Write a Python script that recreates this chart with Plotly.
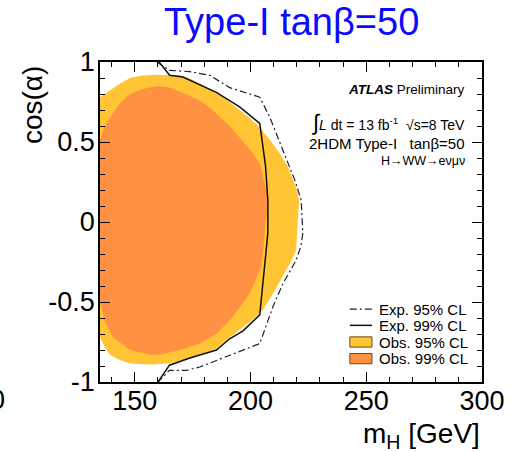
import plotly.graph_objects as go

# Observed 99% CL exclusion region (m_H [GeV], cos(alpha))
obs99_m = [135, 137, 140.6, 144, 148, 153, 159.6, 165, 172, 178, 183, 186.7, 191, 195.3, 200, 204,
           206.9, 207.6, 206.5, 206.1, 205.5, 204.6, 202, 199.6, 196, 192.4, 188, 185.3, 178.1, 169.5,
           160.9, 156.6, 148, 140.6, 137, 135]
obs99_c = [0.51, 0.60, 0.68, 0.75, 0.80, 0.83, 0.85, 0.84, 0.80, 0.76, 0.71, 0.656, 0.60, 0.53, 0.45, 0.366,
           0.2, 0.136, 0.0, -0.07, -0.18, -0.28, -0.37, -0.447, -0.52, -0.59, -0.66, -0.70, -0.76, -0.80,
           -0.83, -0.83, -0.80, -0.72, -0.62, -0.50]

# Observed 95% CL exclusion region
obs95_m = [135, 137, 139.3, 143, 148, 153, 159.6, 165, 169.5, 174, 178, 182, 186.7, 191, 195.3, 200, 204,
           208, 212.6, 216, 218, 220, 221, 220.4, 219.7, 217, 214, 210, 205.4, 201, 196.8, 192, 189.6,
           185.3, 179, 173.8, 165, 156.6, 148, 143, 139.3, 137, 135]
obs95_c = [0.78, 0.80, 0.82, 0.86, 0.90, 0.915, 0.92, 0.92, 0.917, 0.895, 0.867, 0.835, 0.80, 0.75, 0.70,
           0.645, 0.59, 0.52, 0.43, 0.35, 0.28, 0.2, 0.136, 0.01, -0.18, -0.26, -0.34, -0.44, -0.55, -0.61,
           -0.656, -0.71, -0.74, -0.79, -0.825, -0.85, -0.885, -0.89, -0.885, -0.86, -0.83, -0.78, -0.72]

# Expected 99% CL contour
exp99_m = [160.5, 165.1, 170.8, 178, 185.3, 195.3, 204, 206.5, 207.5, 207.5, 206.1, 205, 204, 196.8,
           191, 185.3, 173.8, 165, 160.1]
exp99_c = [1.0, 0.917, 0.906, 0.86, 0.81, 0.72, 0.616, 0.35, 0.136, -0.07, -0.28, -0.45, -0.58, -0.68,
           -0.73, -0.80, -0.85, -0.895, -1.0]

# Expected 95% CL contour
exp95_m = [159.5, 165, 173.8, 182.4, 191, 204, 208.3, 214, 219.2, 221.9, 222.6, 221.8, 219.7, 214,
           209.7, 204, 196.8, 185.3, 178.1, 172.4, 165, 160]
exp95_c = [1.0, 0.948, 0.94, 0.917, 0.84, 0.78, 0.656, 0.45, 0.26, 0.136, -0.07, -0.15, -0.24, -0.385,
           -0.53, -0.76, -0.80, -0.865, -0.906, -0.927, -0.927, -1.0]

x_ticks = [150, 200, 250, 300]
y_ticks = [-1, -0.5, 0, 0.5, 1]
y_tick_text = ["-1", "-0.5", "0", "0.5", "1"]

legend_labels = ["Exp. 95% CL", "Exp. 99% CL", "Obs. 95% CL", "Obs. 99% CL"]
info_lines = [
    ("<b><i>ATLAS</i></b> Preliminary", 13.5),
    ("<span style='font-size:22px'>∫</span><i>L</i> dt = 13 fb<sup>-1</sup>\u00a0\u00a0√s=8 TeV", 14),
    ("2HDM Type-I\u00a0\u00a0\u00a0tanβ=50", 15),
    ("H→WW→eνμν", 12.5),
]

YELLOW = "#FFC534"
ORANGE = "#FF9142"
FONT = "Liberation Sans, Arial, sans-serif"

fig = go.Figure()
fig.add_trace(go.Scatter(x=obs95_m, y=obs95_c, fill="toself", fillcolor=YELLOW,
                         line=dict(width=0, color=YELLOW), mode="lines", hoverinfo="skip"))
fig.add_trace(go.Scatter(x=obs99_m, y=obs99_c, fill="toself", fillcolor=ORANGE,
                         line=dict(width=0, color=ORANGE), mode="lines", hoverinfo="skip"))
fig.add_trace(go.Scatter(x=exp95_m, y=exp95_c, mode="lines",
                         line=dict(color="#222222", width=1.2, dash="7px,3px,2px,3px")))
fig.add_trace(go.Scatter(x=exp99_m, y=exp99_c, mode="lines",
                         line=dict(color="#111111", width=1.5)))

axis_common = dict(
    showline=True, linecolor="black", linewidth=1.5, mirror="allticks",
    ticks="inside", ticklen=10, tickwidth=1.3, tickcolor="black",
    showgrid=False, zeroline=False, automargin=False,
    tickfont=dict(family=FONT, size=27, color="black"),
)

fig.update_xaxes(range=[135, 300], tickvals=x_ticks, ticklabelstandoff=-6,
                 minor=dict(ticks="inside", ticklen=5, dtick=10, tick0=0, tickcolor="black",
                            tickwidth=1.3, showgrid=False),
                 **axis_common)
fig.update_yaxes(range=[-1, 1], tickvals=y_ticks, ticktext=y_tick_text, ticklabelstandoff=-2,
                 minor=dict(ticks="inside", ticklen=5, dtick=0.1, tick0=0, tickcolor="black",
                            tickwidth=1.3, showgrid=False),
                 **axis_common)

annotations = [
    dict(text="Type-I tanβ=50", x=0.5, y=1.125, xref="paper", yref="paper",
         xanchor="center", yanchor="middle", showarrow=False,
         font=dict(family=FONT, size=38, color="#0A0AFF")),
    dict(text="m<sub>H</sub> [GeV]", x=1.0, y=-0.105, xref="paper", yref="paper",
         xanchor="right", yanchor="top", showarrow=False,
         font=dict(family=FONT, size=28, color="black")),
    dict(text="cos(α)", x=-0.175, y=0.866, xref="paper", yref="paper", textangle=-90,
         xanchor="center", yanchor="middle", showarrow=False,
         font=dict(family=FONT, size=28, color="black")),
    dict(text="0", x=-0.243, y=-0.056, xref="paper", yref="paper",
         xanchor="right", yanchor="middle", showarrow=False,
         font=dict(family=FONT, size=27, color="black")),
]

# info text block, top right
info_y = [0.915, 0.812, 0.745, 0.692]
for (txt, fs), yy in zip(info_lines, info_y):
    annotations.append(dict(text=txt, x=0.96, y=yy, xref="paper", yref="paper",
                            xanchor="right", yanchor="middle", showarrow=False,
                            font=dict(family=FONT, size=fs, color="black")))

# legend block, bottom right
leg_y = [0.228, 0.177, 0.125, 0.073]
shapes = []
shapes.append(dict(type="line", xref="paper", yref="paper", x0=0.654, x1=0.712,
                   y0=leg_y[0], y1=leg_y[0], line=dict(color="#222222", width=1.2,
                                                      dash="7px,3px,2px,3px")))
shapes.append(dict(type="line", xref="paper", yref="paper", x0=0.654, x1=0.712,
                   y0=leg_y[1], y1=leg_y[1], line=dict(color="#111111", width=1.5)))
for yy, col in zip(leg_y[2:], [YELLOW, ORANGE]):
    shapes.append(dict(type="rect", xref="paper", yref="paper", x0=0.654, x1=0.712,
                       y0=yy - 0.016, y1=yy + 0.016, fillcolor=col,
                       line=dict(color="#6b4a1a", width=1)))
for txt, yy in zip(legend_labels, leg_y):
    annotations.append(dict(text=txt, x=0.726, y=yy, xref="paper", yref="paper",
                            xanchor="left", yanchor="middle", showarrow=False,
                            font=dict(family=FONT, size=15, color="black")))

fig.update_layout(
    template="none",
    width=510, height=451,
    margin=dict(l=100, r=28, t=62, b=69),
    plot_bgcolor="white", paper_bgcolor="white",
    showlegend=False,
    annotations=annotations,
    shapes=shapes,
    font=dict(family=FONT),
)

fig.write_html("out.html")
